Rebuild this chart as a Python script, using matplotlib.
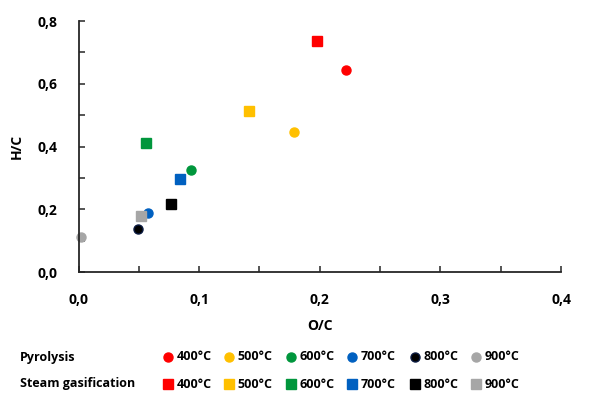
import matplotlib
matplotlib.use("Agg")
import matplotlib.pyplot as plt
from matplotlib.ticker import MultipleLocator, FuncFormatter

plt.rcParams['font.family'] = ['Open Sans', 'DejaVu Sans']
plt.rcParams['font.weight'] = 'bold'

# Data
temps = ["400°C", "500°C", "600°C", "700°C", "800°C", "900°C"]
colors = ["#FF0000", "#FFC000", "#00963C", "#0060C0", "#000000", "#A6A6A6"]

pyro_oc = [0.222, 0.179, 0.093, 0.058, 0.049, 0.002]
pyro_hc = [0.643, 0.445, 0.324, 0.188, 0.137, 0.112]

steam_oc = [0.198, 0.141, 0.056, 0.084, 0.077, 0.052]
steam_hc = [0.737, 0.514, 0.410, 0.296, 0.218, 0.178]

FS = 10
LFS = 9

fig = plt.figure(figsize=(5.89, 3.94), dpi=100)
ax = fig.add_axes([0.1333, 0.3096, 0.8192, 0.6371])

for i in range(len(temps)):
    edge = "#0A1A40" if temps[i] == "800°C" else colors[i]
    ax.plot(pyro_oc[i], pyro_hc[i], 'o', color=colors[i], markeredgecolor=edge,
            markersize=6.5, clip_on=False)
    ax.plot(steam_oc[i], steam_hc[i], 's', color=colors[i], markersize=6.5,
            clip_on=False)

ax.set_xlim(0, 0.4)
ax.set_ylim(0, 0.8)
ax.xaxis.set_major_locator(MultipleLocator(0.1))
ax.xaxis.set_minor_locator(MultipleLocator(0.05))
ax.yaxis.set_major_locator(MultipleLocator(0.2))
ax.yaxis.set_minor_locator(MultipleLocator(0.1))
comma = FuncFormatter(lambda v, p: f"{v:.1f}".replace(".", ","))
ax.xaxis.set_major_formatter(comma)
ax.yaxis.set_major_formatter(comma)

for side in ["top", "right"]:
    ax.spines[side].set_visible(False)
for side in ["left", "bottom"]:
    ax.spines[side].set_linewidth(1.3)
    ax.spines[side].set_color("#262626")
ax.tick_params(which="both", direction="in", length=4, width=1.1, color="#262626")
ax.tick_params(axis="y", labelsize=FS, pad=15)
ax.tick_params(axis="x", labelsize=FS, pad=15)

ax.set_xlabel("O/C", fontsize=FS, fontweight="bold", labelpad=9)
ax.set_ylabel("H/C", fontsize=FS, fontweight="bold", labelpad=10)

# legend rows
lax = fig.add_axes([0, 0, 1, 0.2])
lax.set_xlim(0, 589)
lax.set_ylim(78.8, 0)
lax.axis("off")
y1 = 357 - 315.2
y2 = 384 - 315.2
lax.text(20, y1, "Pyrolysis", fontsize=LFS, fontweight="bold", va="center")
lax.text(20, y2, "Steam gasification", fontsize=LFS, fontweight="bold", va="center")
xs = [168, 229, 291, 352, 415, 476]
for i in range(len(temps)):
    edge = "#0A1A40" if temps[i] == "800°C" else colors[i]
    lax.plot(xs[i], y1, 'o', color=colors[i], markeredgecolor=edge, markersize=6.5)
    lax.plot(xs[i], y2, 's', color=colors[i], markersize=6.5)
    lax.text(xs[i] + 8.5, y1, temps[i], fontsize=LFS, fontweight="bold", va="center")
    lax.text(xs[i] + 8.5, y2, temps[i], fontsize=LFS, fontweight="bold", va="center")

fig.savefig("out.png", dpi=100)
